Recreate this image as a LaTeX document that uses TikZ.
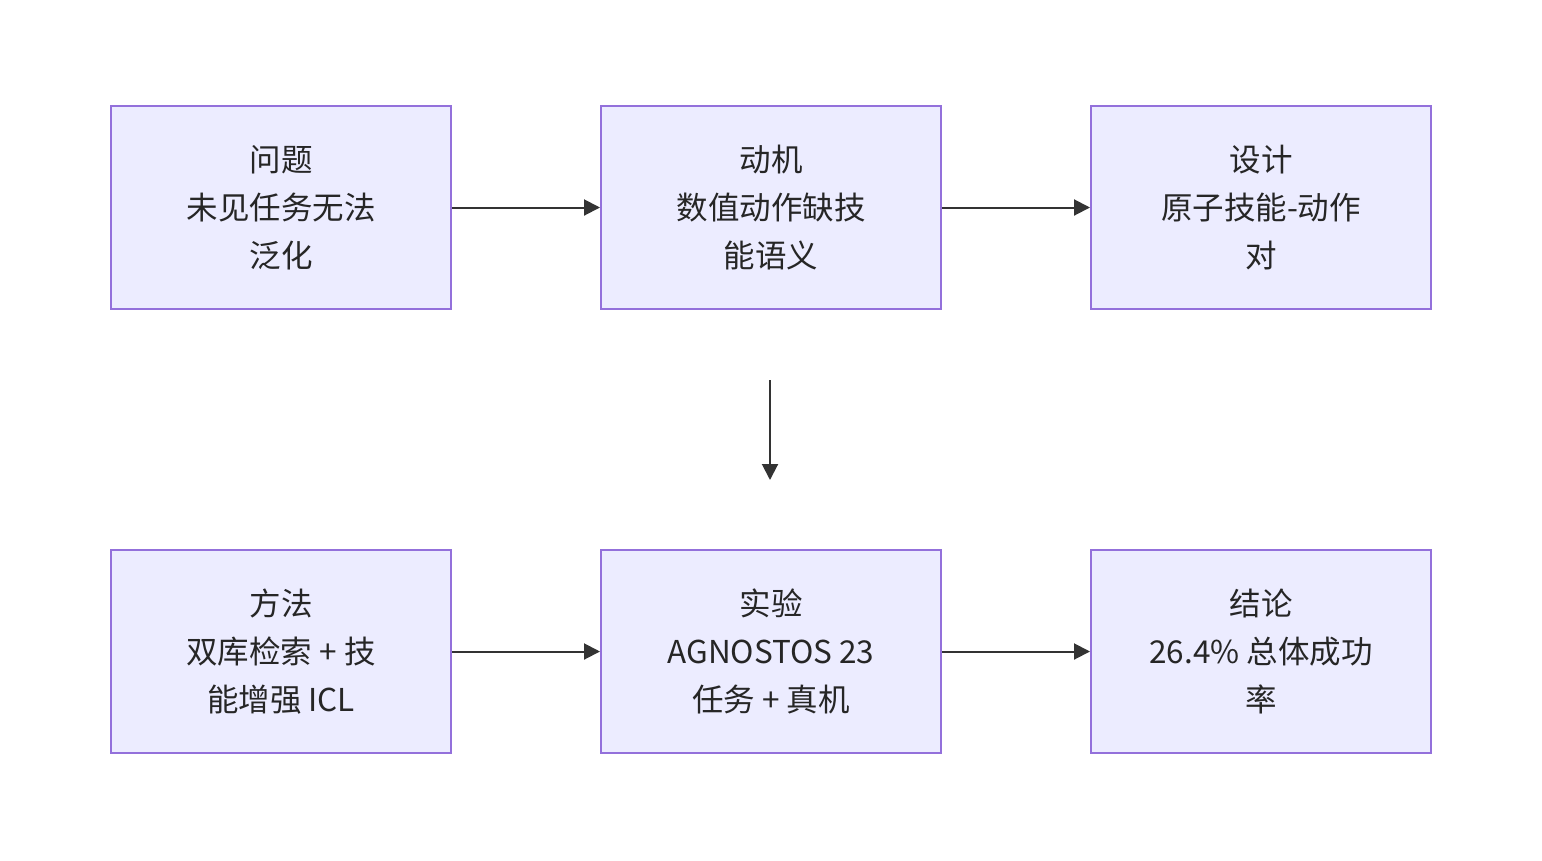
\documentclass[tikz,border=0pt]{standalone}
\usepackage{fontspec}
\setmainfont{Noto Sans CJK SC}
\usetikzlibrary{arrows.meta}
\definecolor{boxfill}{HTML}{ECECFF}
\definecolor{boxline}{HTML}{9370DB}
\definecolor{arrowc}{HTML}{333333}
\begin{document}
\begin{tikzpicture}[x=1pt,y=-1pt,
  box/.style={draw=boxline,fill=boxfill,line width=2pt,minimum width=340pt,minimum height=203pt,inner sep=0pt,
    align=center,text=black!85,font=\fontsize{31.5}{48}\selectfont},
  conn/.style={draw=arrowc,line width=2pt,-{Triangle[length=16pt,width=16pt]}}]
\useasboundingbox (0,0) rectangle (1542,860);
\node[box] (p) at (281,207.5) {问题\\未见任务无法\\泛化};
\node[box] (m) at (771,207.5) {动机\\数值动作缺技\\能语义};
\node[box] (d) at (1261,207.5) {设计\\原子技能-动作\\对};
\node[box] (f) at (281,651.5) {方法\\双库检索 + 技\\能增强 ICL};
\node[box] (e) at (771,651.5) {实验\\AGNOSTOS 23\\任务 + 真机};
\node[box] (c) at (1261,651.5) {结论\\26.4\% 总体成功\\率};
\coordinate (vs) at (770,380);
\coordinate (ve) at (770,480);
\draw[conn] (p) -- (m);
\draw[conn] (m) -- (d);
\draw[conn] (f) -- (e);
\draw[conn] (e) -- (c);
\draw[conn] (vs) -- (ve);
\end{tikzpicture}
\end{document}
